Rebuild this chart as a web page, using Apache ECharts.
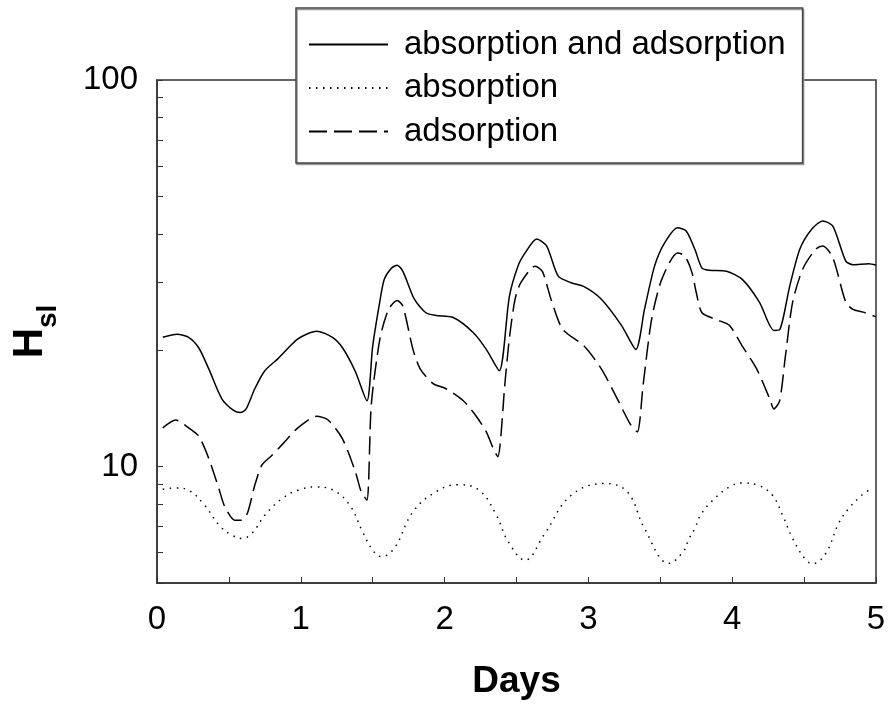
<!DOCTYPE html>
<html>
<head>
<meta charset="utf-8">
<script src="https://cdn.jsdelivr.net/npm/echarts@6/dist/echarts.min.js"></script>
<style>
  html, body { margin: 0; padding: 0; background: #fff; }
  #chart { width: 890px; height: 710px; }
</style>
</head>
<body>
<div id="chart"></div>
<script>
// absorption and adsorption (solid)
const daysBoth = [0.04, 0.14, 0.22, 0.29, 0.36, 0.45, 0.53, 0.58, 0.62, 0.68, 0.75, 0.84, 0.98, 1.11, 1.22, 1.29, 1.38, 1.46,
  1.50, 1.55, 1.58, 1.63, 1.67, 1.71, 1.79, 1.87, 1.94, 2.06, 2.20, 2.29, 2.38,
  2.45, 2.51, 2.56, 2.64, 2.71, 2.79, 2.88, 2.97, 3.09, 3.23, 3.33,
  3.39, 3.46, 3.53, 3.62, 3.68, 3.74, 3.79, 3.84, 3.96, 4.07, 4.19, 4.29, 4.33,
  4.40, 4.47, 4.55, 4.63, 4.70, 4.79, 4.84, 4.95, 5.00];
const hslBoth = [21.6, 22.0, 21.6, 20.3, 17.9, 15.0, 14.0, 13.8, 14.1, 15.9, 17.7, 19.0, 21.4, 22.4, 21.6, 20.3, 17.6, 14.8,
  20.5, 26.8, 30.5, 32.6, 33.2, 32.0, 27.1, 25.0, 24.6, 24.3, 22.2, 20.1, 17.7,
  27.5, 33.0, 35.7, 38.8, 37.2, 31.1, 29.9, 29.2, 27.1, 23.2, 20.1,
  25.5, 33.0, 37.9, 41.5, 40.7, 36.5, 32.6, 32.2, 32.0, 30.5, 26.6, 22.5, 22.6,
  29.3, 36.5, 41.0, 43.2, 41.9, 34.0, 33.3, 33.5, 33.2];

// absorption (dotted)
const daysAbs = [0.04, 0.13, 0.22, 0.33, 0.44, 0.52, 0.59, 0.66, 0.75, 0.87, 0.98, 1.10, 1.22, 1.34, 1.43, 1.50, 1.56,
  1.65, 1.78, 1.94, 2.09, 2.24, 2.36, 2.44, 2.56, 2.69, 2.88, 3.11, 3.27, 3.39, 3.56,
  3.66, 3.70, 3.74, 3.78, 3.86, 3.98, 4.07, 4.18, 4.28, 4.35, 4.42, 4.51, 4.56,
  4.65, 4.74, 4.81, 4.90, 4.96];
const hslAbs = [8.74, 8.81, 8.69, 7.95, 7.0, 6.65, 6.52, 6.72, 7.49, 8.27, 8.69, 8.86, 8.71, 7.95, 6.78, 6.08, 5.85,
  6.15, 7.64, 8.61, 8.98, 8.69, 7.49, 6.42, 5.73, 6.65, 8.43, 9.04, 8.61, 6.92, 5.62,
  6.03, 6.52, 6.92, 7.49, 8.15, 8.86, 9.07, 8.95, 8.43, 7.49, 6.52, 5.75, 5.61,
  5.96, 7.13, 7.79, 8.43, 8.74];

// adsorption (dashed)
const daysAds = [0.04, 0.13, 0.22, 0.29, 0.36, 0.43, 0.47, 0.54, 0.59, 0.63, 0.68, 0.73, 0.80, 0.87, 0.98, 1.11, 1.19,
  1.29, 1.38, 1.42, 1.46, 1.49, 1.55, 1.61, 1.67, 1.71, 1.78, 1.83, 1.92, 2.01, 2.13, 2.22, 2.29, 2.34, 2.37,
  2.42, 2.45, 2.49, 2.53, 2.63, 2.68, 2.74, 2.82, 2.97, 3.09, 3.20, 3.29, 3.34,
  3.38, 3.44, 3.51, 3.62, 3.67, 3.72, 3.75, 3.79, 3.89, 3.98, 4.07, 4.17, 4.26, 4.29,
  4.33, 4.37, 4.42, 4.49, 4.58, 4.63, 4.70, 4.79, 4.84, 4.91, 5.00];
const hslAds = [12.6, 13.2, 12.6, 12.0, 10.5, 8.78, 7.9, 7.27, 7.27, 7.6, 8.95, 10.1, 10.7, 11.4, 12.6, 13.5, 13.2,
  11.8, 9.69, 8.61, 8.19, 14.4, 21.4, 25.5, 26.9, 26.0, 20.1, 17.9, 16.4, 15.9, 14.8, 13.5, 12.3, 11.1, 10.6,
  16.5, 21.4, 27.1, 29.9, 33.0, 32.0, 27.1, 22.7, 20.5, 17.9, 15.0, 12.9, 12.3,
  16.2, 24.1, 30.5, 35.7, 35.1, 31.8, 28.2, 25.0, 24.0, 23.2, 20.5, 17.9, 15.0, 14.1,
  14.8, 19.3, 26.6, 32.4, 36.5, 37.2, 34.7, 26.6, 25.5, 25.1, 24.4];

// axis ticks
const xTicks = [0, 0.5, 1, 1.5, 2, 2.5, 3, 3.5, 4, 4.5, 5];
const yTicks = [5, 6, 7, 8, 9, 10, 20, 30, 40, 50, 60, 70, 80, 90, 100];
const yLabels = [10, 100];

const pairs = (xs, ys) => xs.map((x, i) => [x, ys[i]]);

const font = "'Liberation Sans', Arial, sans-serif";
const axisColor = '#333';

const chart = echarts.init(document.getElementById('chart'));

chart.setOption({
  animation: false,
  backgroundColor: '#fff',
  grid: {
    left: 157, right: 14, top: 80, bottom: 127,
    show: true, borderColor: axisColor, borderWidth: 1.5
  },
  legend: {
    orient: 'vertical',
    left: 296, top: 8,
    padding: [20, 17, 15, 12],
    itemGap: 10.5,
    itemWidth: 79, itemHeight: 14,
    itemStyle: { opacity: 0, borderWidth: 0 },
    backgroundColor: '#fff',
    borderColor: '#444', borderWidth: 1.5,
    shadowColor: '#999', shadowOffsetX: 1, shadowOffsetY: 1.5, shadowBlur: 0,
    textStyle: { fontSize: 33, color: '#000', fontFamily: font, padding: [0, 0, 0, 11] },
    data: ['absorption and adsorption', 'absorption', 'adsorption']
  },
  xAxis: {
    type: 'value',
    min: 0, max: 5, interval: 1,
    name: 'Days',
    nameLocation: 'middle',
    nameGap: 80,
    nameTextStyle: { fontSize: 37, fontWeight: 'bold', color: '#000', fontFamily: font },
    axisLine: { lineStyle: { color: axisColor, width: 1.5 } },
    axisTick: { inside: true, length: 6, customValues: xTicks, lineStyle: { color: axisColor } },
    axisLabel: { fontSize: 33, color: '#000', fontFamily: font, margin: 20 },
    splitLine: { show: false }
  },
  yAxis: {
    type: 'log',
    logBase: 10,
    min: 5, max: 100,
    name: '{h|H}{s|sl}',
    nameLocation: 'middle',
    nameRotate: 90,
    nameGap: 95,
    nameTextStyle: {
      fontFamily: font,
      rich: {
        h: { fontSize: 42, fontWeight: 'bold', color: '#000', fontFamily: font, lineHeight: 64 },
        s: { fontSize: 28, fontWeight: 'bold', color: '#000', fontFamily: font, lineHeight: 28, verticalAlign: 'bottom' }
      }
    },
    axisLine: { show: true, lineStyle: { color: axisColor, width: 1.5 } },
    axisTick: { inside: true, length: 6, customValues: yTicks, lineStyle: { color: axisColor } },
    axisLabel: { fontSize: 33, color: '#000', fontFamily: font, margin: 19, customValues: yLabels },
    splitLine: { show: false }
  },
  series: [
    {
      name: 'absorption and adsorption',
      type: 'line',
      data: pairs(daysBoth, hslBoth),
      symbol: 'none',
      smooth: 0.25,
      itemStyle: { color: '#000' },
      lineStyle: { color: '#000', width: 1.5, type: 'solid' }
    },
    {
      name: 'absorption',
      type: 'line',
      data: pairs(daysAbs, hslAbs),
      symbol: 'none',
      smooth: 0.4,
      itemStyle: { color: '#000' },
      lineStyle: { color: '#000', width: 1.5, type: [1.5, 5.5] }
    },
    {
      name: 'adsorption',
      type: 'line',
      data: pairs(daysAds, hslAds),
      symbol: 'none',
      smooth: 0.25,
      itemStyle: { color: '#000' },
      lineStyle: { color: '#000', width: 1.5, type: [18, 7] }
    }
  ]
});
</script>
</body>
</html>
